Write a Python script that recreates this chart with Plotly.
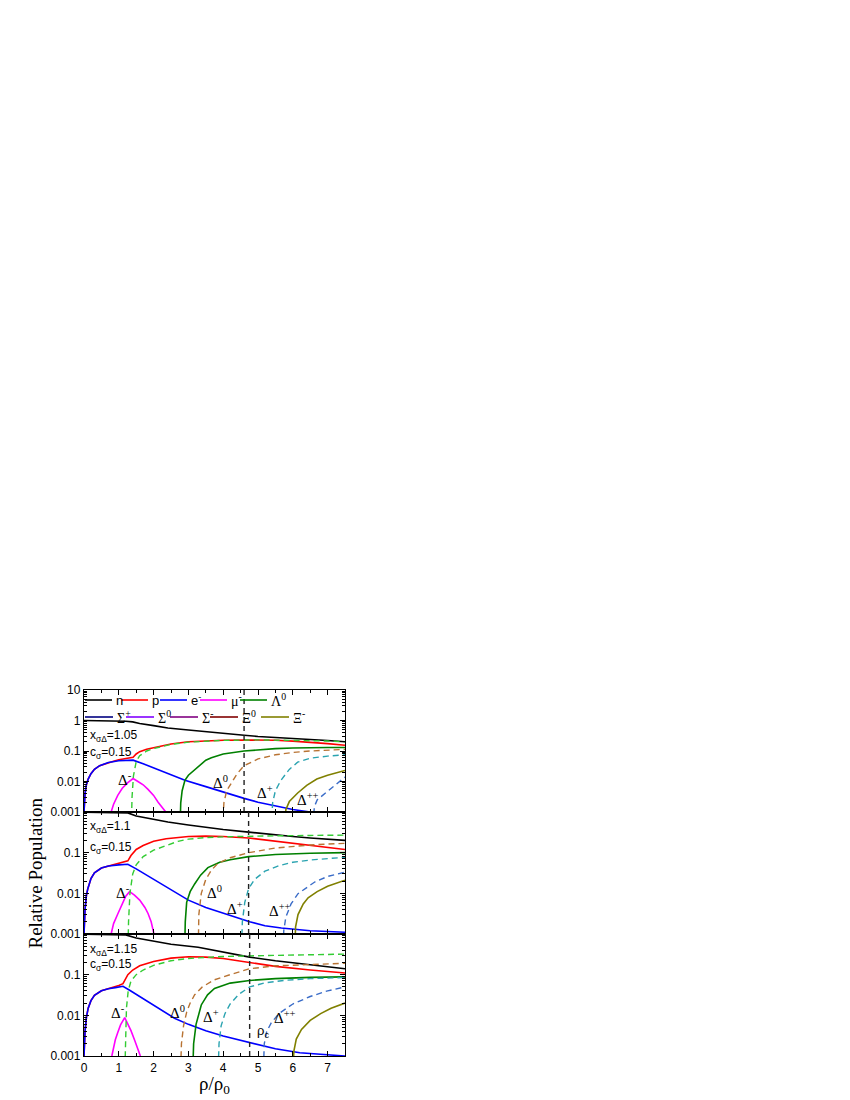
import numpy as np
import plotly.graph_objects as go
from plotly.subplots import make_subplots

# ---------------- data ----------------
rho_c = [4.6, 4.73, 4.76]
x_sigma_delta = ["1.05", "1.1", "1.15"]
c_sigma = ["0.15", "0.15", "0.15"]
ytick_vals_top = [10, 1, 0.1, 0.01, 0.001]
ytick_text_top = ["10", "1", "0.1", "0.01", "0.001"]
ytick_vals_low = [0.1, 0.01, 0.001]
ytick_text_low = ["0.1", "0.01", "0.001"]
xtick_vals = [0, 1, 2, 3, 4, 5, 6, 7]

# Panel 1 (x_sigmaDelta = 1.05)
n1_x = [0, 0.5, 1.0, 1.2, 1.4, 1.6, 2.0, 2.41, 3.0, 3.5, 4.0, 4.6, 5.0, 5.5, 6.0, 6.5, 7.0, 7.5]
n1_y = [1.0, 0.99, 0.97, 0.95, 0.9, 0.8, 0.68, 0.57, 0.49, 0.44, 0.39, 0.33, 0.3, 0.28, 0.26, 0.24, 0.22, 0.2]
p1_x = [0, 0.03, 0.07, 0.12, 0.2, 0.3, 0.45, 0.7, 0.85, 1.0, 1.2, 1.41, 1.5, 1.6, 1.8, 2.0, 2.5, 3.0, 3.5, 4.0, 4.6, 5.0, 5.5, 6.0, 6.5, 7.0, 7.5]
p1_y = [0.001, 0.004, 0.008, 0.012, 0.018, 0.025, 0.033, 0.042, 0.046, 0.052, 0.058, 0.062, 0.08, 0.095, 0.115, 0.13, 0.17, 0.2, 0.215, 0.225, 0.23, 0.23, 0.225, 0.21, 0.195, 0.175, 0.155]
e1_x = [0, 0.03, 0.07, 0.12, 0.2, 0.3, 0.45, 0.7, 1.0, 1.2, 1.41, 1.7, 2.0, 2.5, 2.9, 3.5, 4.0, 4.6, 5.0, 5.5, 6.0, 6.5, 7.0, 7.5]
e1_y = [0.001, 0.004, 0.008, 0.012, 0.018, 0.025, 0.033, 0.042, 0.048, 0.05, 0.05, 0.038, 0.028, 0.017, 0.011, 0.0068, 0.0045, 0.0028, 0.0021, 0.0016, 0.0012, 0.001, 0.0009, 0.0008]
mu1_x = [0.78, 0.85, 0.97, 1.1, 1.25, 1.41, 1.55, 1.7, 1.84, 2.0, 2.13, 2.25, 2.35]
mu1_y = [0.001, 0.0018, 0.0035, 0.006, 0.009, 0.0125, 0.01, 0.0078, 0.0055, 0.0035, 0.0021, 0.0014, 0.001]
lam1_x = [2.76, 2.78, 2.82, 2.9, 3.0, 3.2, 3.5, 3.66, 4.0, 4.6, 5.0, 5.5, 6.0, 6.5, 7.0, 7.5]
lam1_y = [0.0003, 0.002, 0.005, 0.011, 0.016, 0.026, 0.05, 0.06, 0.08, 0.1, 0.11, 0.12, 0.125, 0.13, 0.13, 0.13]
xim1_x = [5.78, 5.8, 5.9, 6.14, 6.4, 6.69, 7.0, 7.5]
xim1_y = [0.0004, 0.0012, 0.0022, 0.0042, 0.0075, 0.012, 0.016, 0.023]
dm1_x = [1.36, 1.38, 1.42, 1.5, 1.6, 1.8, 2.0, 2.5, 3.0, 3.5, 4.0, 5.0, 6.0, 7.0, 7.5]
dm1_y = [0.0003, 0.003, 0.015, 0.045, 0.07, 0.1, 0.12, 0.165, 0.195, 0.213, 0.223, 0.232, 0.228, 0.212, 0.2]
d01_x = [3.98, 4.02, 4.1, 4.23, 4.4, 4.6, 5.0, 5.5, 6.0, 6.5, 7.0, 7.5]
d01_y = [0.0003, 0.002, 0.005, 0.0085, 0.018, 0.033, 0.055, 0.075, 0.09, 0.1, 0.108, 0.113]
dp1_x = [5.38, 5.42, 5.5, 5.66, 5.9, 6.14, 6.5, 7.0, 7.5]
dp1_y = [0.0003, 0.002, 0.005, 0.011, 0.025, 0.043, 0.058, 0.068, 0.075]
dpp1_x = [6.58, 6.62, 6.7, 6.85, 7.07, 7.3, 7.5]
dpp1_y = [0.0004, 0.0015, 0.0025, 0.0035, 0.0055, 0.009, 0.014]

# Panel 2 (x_sigmaDelta = 1.1)
n2_x = [0, 1.0, 1.26, 1.5, 2.0, 2.41, 3.0, 3.5, 4.0, 4.73, 5.5, 6.0, 6.5, 7.0, 7.5]
n2_y = [0.99, 0.98, 0.95, 0.8, 0.65, 0.57, 0.48, 0.42, 0.37, 0.32, 0.27, 0.25, 0.23, 0.21, 0.2]
p2_x = [0, 0.03, 0.07, 0.11, 0.2, 0.3, 0.5, 0.7, 0.85, 1.0, 1.15, 1.26, 1.35, 1.5, 1.7, 2.0, 2.36, 3.0, 3.5, 4.0, 4.73, 5.5, 6.0, 6.5, 7.0, 7.5]
p2_y = [0.001, 0.004, 0.009, 0.013, 0.023, 0.032, 0.042, 0.047, 0.051, 0.055, 0.059, 0.063, 0.085, 0.12, 0.15, 0.19, 0.22, 0.25, 0.255, 0.25, 0.23, 0.19, 0.17, 0.15, 0.135, 0.12]
e2_x = [0, 0.03, 0.07, 0.11, 0.2, 0.3, 0.5, 0.7, 1.0, 1.26, 1.5, 2.0, 2.5, 3.0, 3.5, 4.0, 4.5, 4.76, 5.2, 5.67, 6.5, 7.5]
e2_y = [0.001, 0.004, 0.009, 0.013, 0.023, 0.032, 0.042, 0.047, 0.05, 0.052, 0.04, 0.022, 0.012, 0.0068, 0.0045, 0.0033, 0.0024, 0.002, 0.0016, 0.0014, 0.0012, 0.0011]
mu2_x = [0.78, 0.85, 0.97, 1.07, 1.2, 1.31, 1.45, 1.6, 1.75, 1.84, 1.93, 2.01]
mu2_y = [0.001, 0.0018, 0.0031, 0.005, 0.0085, 0.011, 0.009, 0.0068, 0.0045, 0.0032, 0.002, 0.001]
lam2_x = [2.89, 2.91, 2.95, 3.05, 3.18, 3.35, 3.56, 3.9, 4.2, 4.73, 5.5, 6.5, 7.5]
lam2_y = [0.0003, 0.002, 0.006, 0.011, 0.017, 0.028, 0.043, 0.058, 0.067, 0.08, 0.09, 0.097, 0.1]
xim2_x = [6.05, 6.08, 6.15, 6.3, 6.44, 6.7, 7.0, 7.5]
xim2_y = [0.0003, 0.0015, 0.003, 0.0055, 0.0078, 0.011, 0.015, 0.021]
dm2_x = [1.26, 1.28, 1.32, 1.4, 1.5, 1.7, 2.0, 2.36, 2.7, 3.0, 3.5, 4.0, 4.73, 5.5, 6.5, 7.5]
dm2_y = [0.0003, 0.002, 0.01, 0.03, 0.05, 0.08, 0.115, 0.15, 0.19, 0.215, 0.235, 0.245, 0.255, 0.26, 0.265, 0.27]
d02_x = [3.28, 3.3, 3.37, 3.5, 3.66, 3.85, 4.2, 4.73, 5.5, 6.5, 7.5]
d02_y = [0.0003, 0.003, 0.01, 0.022, 0.037, 0.055, 0.075, 0.1, 0.13, 0.155, 0.17]
dp2_x = [4.52, 4.55, 4.62, 4.73, 4.9, 5.2, 5.6, 6.0, 6.5, 7.0, 7.5]
dp2_y = [0.0003, 0.002, 0.006, 0.013, 0.022, 0.035, 0.048, 0.058, 0.066, 0.072, 0.077]
dpp2_x = [5.72, 5.74, 5.8, 5.95, 6.15, 6.4, 6.63, 7.0, 7.5]
dpp2_y = [0.0003, 0.0012, 0.0026, 0.0055, 0.0098, 0.014, 0.019, 0.026, 0.033]

# Panel 3 (x_sigmaDelta = 1.15)
n3_x = [0, 0.8, 1.2, 1.5, 2.0, 2.5, 3.28, 4.0, 4.76, 5.5, 6.5, 7.5]
n3_y = [0.99, 0.98, 0.95, 0.8, 0.66, 0.56, 0.47, 0.36, 0.27, 0.22, 0.175, 0.14]
p3_x = [0, 0.03, 0.07, 0.12, 0.2, 0.3, 0.5, 0.7, 0.9, 1.0, 1.12, 1.2, 1.26, 1.4, 1.6, 2.0, 2.5, 3.0, 3.5, 4.0, 4.76, 5.5, 6.5, 7.5]
p3_y = [0.001, 0.004, 0.009, 0.015, 0.023, 0.031, 0.04, 0.045, 0.05, 0.054, 0.06, 0.08, 0.1, 0.13, 0.165, 0.21, 0.255, 0.275, 0.27, 0.25, 0.2, 0.16, 0.13, 0.11]
e3_x = [0, 0.03, 0.07, 0.12, 0.2, 0.3, 0.5, 0.7, 0.9, 1.12, 1.3, 1.6, 2.0, 2.6, 3.0, 3.5, 4.0, 4.76, 5.5, 6.2, 7.0, 7.5]
e3_y = [0.001, 0.004, 0.009, 0.015, 0.023, 0.031, 0.04, 0.045, 0.048, 0.052, 0.042, 0.029, 0.018, 0.0085, 0.006, 0.0042, 0.0031, 0.0021, 0.0015, 0.0012, 0.00105, 0.001]
mu3_x = [0.8, 0.85, 0.9, 0.97, 1.05, 1.17, 1.25, 1.35, 1.45, 1.55, 1.62]
mu3_y = [0.001, 0.0017, 0.0025, 0.0038, 0.0058, 0.0088, 0.0065, 0.0042, 0.0025, 0.0014, 0.001]
lam3_x = [3.12, 3.15, 3.22, 3.37, 3.55, 3.75, 4.2, 4.76, 5.5, 6.5, 7.5]
lam3_y = [0.0003, 0.002, 0.006, 0.018, 0.032, 0.046, 0.062, 0.072, 0.08, 0.086, 0.088]
xim3_x = [6.0, 6.03, 6.1, 6.25, 6.5, 6.8, 7.1, 7.5]
xim3_y = [0.0003, 0.0013, 0.0026, 0.0045, 0.0075, 0.011, 0.015, 0.02]
dm3_x = [1.17, 1.19, 1.22, 1.27, 1.35, 1.5, 1.7, 2.0, 2.5, 3.0, 3.5, 4.0, 4.76, 5.5, 6.5, 7.5]
dm3_y = [0.0003, 0.003, 0.015, 0.04, 0.07, 0.1, 0.13, 0.17, 0.22, 0.25, 0.27, 0.28, 0.29, 0.3, 0.31, 0.32]
d03_x = [2.77, 2.8, 2.86, 2.95, 3.05, 3.18, 3.4, 3.75, 4.2, 4.76, 5.5, 6.5, 7.5]
d03_y = [0.0003, 0.002, 0.0055, 0.012, 0.02, 0.032, 0.05, 0.075, 0.1, 0.14, 0.165, 0.18, 0.19]
dp3_x = [3.85, 3.88, 3.94, 4.05, 4.2, 4.45, 4.76, 5.2, 5.8, 6.5, 7.5]
dp3_y = [0.0003, 0.002, 0.0055, 0.011, 0.019, 0.033, 0.05, 0.063, 0.073, 0.08, 0.085]
dpp3_x = [5.15, 5.18, 5.25, 5.38, 5.6, 6.0, 6.5, 7.0, 7.5]
dpp3_y = [0.0003, 0.002, 0.004, 0.0065, 0.011, 0.019, 0.029, 0.04, 0.05]

# legend entries (two rows, as in the reference)
legend_row1 = ["n", "p", "e<sup>-</sup>", "μ<sup>-</sup>", "Λ<sup>0</sup>"]
legend_row2 = ["Σ<sup>+</sup>", "Σ<sup>0</sup>", "Σ<sup>-</sup>", "Ξ<sup>0</sup>", "Ξ<sup>-</sup>"]

# label positions (rho, value)
delta_labels = [
    [("Δ<sup>-</sup>", 1.18, 0.012), ("Δ<sup>0</sup>", 3.93, 0.0096), ("Δ<sup>+</sup>", 5.19, 0.0045), ("Δ<sup>++</sup>", 6.44, 0.0027)],
    [("Δ<sup>-</sup>", 1.12, 0.011), ("Δ<sup>0</sup>", 3.75, 0.011), ("Δ<sup>+</sup>", 4.33, 0.0044), ("Δ<sup>++</sup>", 5.62, 0.004)],
    [("Δ<sup>-</sup>", 0.98, 0.012), ("Δ<sup>0</sup>", 2.7, 0.012), ("Δ<sup>+</sup>", 3.64, 0.0095), ("Δ<sup>++</sup>", 5.77, 0.009)],
]
param_label_y = [(0.31, 0.088), (0.43, 0.13), (0.4, 0.17)]

# ---------------- styling ----------------
SANS = "Liberation Sans, Arial, sans-serif"
SERIF = "Liberation Serif, Times New Roman, serif"
COL = dict(n="#000000", p="#ff0000", e="#0000ff", mu="#ff00ff", lam="#008000",
           sp="#000080", s0="#8000ff", sm="#800080", x0="#800000", xm="#808000",
           dm="#33cc33", d0="#b87333", dp="#2aa3b0", dpp="#3a6cc8")
DASH = "6px,4px"
row1_cols = [COL["n"], COL["p"], COL["e"], COL["mu"], COL["lam"]]
row2_cols = [COL["sp"], COL["s0"], COL["sm"], COL["x0"], COL["xm"]]
row1_fonts = [SANS, SANS, SANS, SERIF, SERIF]

# plot-area geometry in pixels (for placing the in-plot legend)
L, T, W, H = 76, 682, 261, 366
def px_x(p):
    return (p - L) / W
def px_y(p):
    return 1 - (p - T) / H

fig = make_subplots(rows=3, cols=1, shared_xaxes=True, vertical_spacing=0)

panels = [
    dict(n=(n1_x, n1_y), p=(p1_x, p1_y), e=(e1_x, e1_y), mu=(mu1_x, mu1_y), lam=(lam1_x, lam1_y),
         xm=(xim1_x, xim1_y), dm=(dm1_x, dm1_y), d0=(d01_x, d01_y), dp=(dp1_x, dp1_y), dpp=(dpp1_x, dpp1_y)),
    dict(n=(n2_x, n2_y), p=(p2_x, p2_y), e=(e2_x, e2_y), mu=(mu2_x, mu2_y), lam=(lam2_x, lam2_y),
         xm=(xim2_x, xim2_y), dm=(dm2_x, dm2_y), d0=(d02_x, d02_y), dp=(dp2_x, dp2_y), dpp=(dpp2_x, dpp2_y)),
    dict(n=(n3_x, n3_y), p=(p3_x, p3_y), e=(e3_x, e3_y), mu=(mu3_x, mu3_y), lam=(lam3_x, lam3_y),
         xm=(xim3_x, xim3_y), dm=(dm3_x, dm3_y), d0=(d03_x, d03_y), dp=(dp3_x, dp3_y), dpp=(dpp3_x, dpp3_y)),
]

for i, pdat in enumerate(panels):
    row = i + 1
    for key in ["n", "p", "e", "mu", "lam", "xm"]:
        x, y = pdat[key]
        fig.add_trace(go.Scatter(x=x, y=y, mode="lines", showlegend=False,
                                 line=dict(color=COL[key], width=1.6)), row=row, col=1)
    for key in ["dm", "d0", "dp", "dpp"]:
        x, y = pdat[key]
        fig.add_trace(go.Scatter(x=x, y=y, mode="lines", showlegend=False,
                                 line=dict(color=COL[key], width=1.4, dash=DASH)), row=row, col=1)
    yr = [1e-3, 10] if i == 0 else [1e-3, 1]
    fig.add_trace(go.Scatter(x=[rho_c[i], rho_c[i]], y=yr, mode="lines", showlegend=False,
                             line=dict(color="#222222", width=1.4, dash="5px,4px")), row=row, col=1)

    ya = "y" if i == 0 else f"y{row}"
    xa = "x" if i == 0 else f"x{row}"
    fig.add_annotation(x=0.12, y=np.log10(param_label_y[i][0]), xref=xa, yref=ya,
                       text=f"x<sub>σΔ</sub>={x_sigma_delta[i]}", showarrow=False,
                       xanchor="left", font=dict(family=SANS, size=12, color="black"))
    fig.add_annotation(x=0.12, y=np.log10(param_label_y[i][1]), xref=xa, yref=ya,
                       text=f"c<sub>σ</sub>={c_sigma[i]}", showarrow=False,
                       xanchor="left", font=dict(family=SANS, size=12, color="black"))
    for txt, lx, ly in delta_labels[i]:
        fig.add_annotation(x=lx, y=np.log10(ly), xref=xa, yref=ya, text=txt, showarrow=False,
                           font=dict(family=SERIF, size=15, color="black"))

fig.add_annotation(x=5.15, y=np.log10(0.004), xref="x3", yref="y3", text="ρ<sub>c</sub>",
                   showarrow=False, font=dict(family=SANS, size=13, color="black"))

# in-plot legend drawn as short line samples plus labels
row1_start = [77, 113, 152, 192, 232]
row2_start = [77, 118, 162, 202, 253]
for j, (name, col) in enumerate(zip(legend_row1, row1_cols)):
    s = row1_start[j]
    fig.add_shape(type="line", xref="paper", yref="paper", x0=px_x(s), x1=px_x(s + 27),
                  y0=px_y(692), y1=px_y(692), line=dict(color=col, width=1.6))
    fig.add_annotation(x=px_x(s + 29), y=px_y(692), xref="paper", yref="paper", text=name,
                       showarrow=False, xanchor="left", yanchor="middle",
                       font=dict(family=row1_fonts[j], size=13 if row1_fonts[j] == SANS else 14, color="black"))
for j, (name, col) in enumerate(zip(legend_row2, row2_cols)):
    s = row2_start[j]
    fig.add_shape(type="line", xref="paper", yref="paper", x0=px_x(s), x1=px_x(s + 28),
                  y0=px_y(709), y1=px_y(709), line=dict(color=col, width=1.6))
    fig.add_annotation(x=px_x(s + 30), y=px_y(709), xref="paper", yref="paper", text=name,
                       showarrow=False, xanchor="left", yanchor="middle",
                       font=dict(family=SERIF, size=14, color="black"))

axis_common = dict(showline=True, linecolor="black", linewidth=1.3, mirror="allticks",
                   ticks="inside", ticklen=5, tickwidth=1.2, tickcolor="black",
                   showgrid=False, zeroline=False,
                   tickfont=dict(family=SANS, size=12, color="black"))

for r in (1, 2, 3):
    fig.update_xaxes(range=[0, 7.5], tickvals=xtick_vals,
                     minor=dict(dtick=0.5, ticks="inside", ticklen=3, tickwidth=1.1, tickcolor="black"),
                     showticklabels=(r == 3), row=r, col=1, **axis_common)
    if r == 1:
        fig.update_yaxes(type="log", range=[-3, 1], tickvals=ytick_vals_top, ticktext=ytick_text_top,
                         row=r, col=1, **axis_common)
    else:
        fig.update_yaxes(type="log", range=[-3, 0], tickvals=ytick_vals_low, ticktext=ytick_text_low,
                         row=r, col=1, **axis_common)
    fig.update_yaxes(minor=dict(dtick="D1", ticks="inside", ticklen=2.5, tickwidth=1, tickcolor="black"),
                     row=r, col=1)

fig.add_annotation(x=-0.2375, y=0.5, xref="paper", yref="paper", text="Relative Population",
                   textangle=-90, showarrow=False, font=dict(family=SERIF, size=19, color="black"))
fig.add_annotation(x=0.5, y=-0.118, xref="paper", yref="paper", text="ρ/ρ<sub>0</sub>",
                   showarrow=False, font=dict(family=SERIF, size=19, color="black"))

fig.update_layout(
    width=850, height=1100,
    margin=dict(l=L, r=850 - L - W, t=T, b=1100 - T - H),
    paper_bgcolor="white", plot_bgcolor="white",
    showlegend=False,
)

fig.write_html("out.html")
